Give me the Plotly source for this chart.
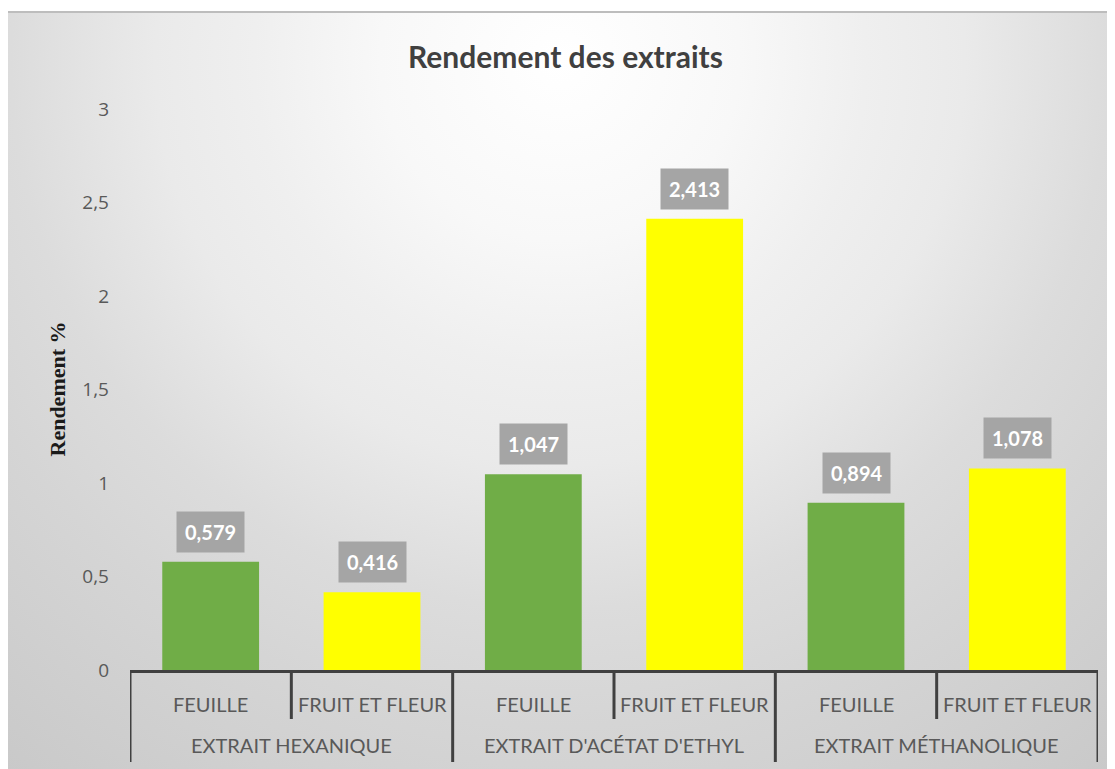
import base64
import plotly.graph_objects as go

# ---- data ----
groups = ["EXTRAIT HEXANIQUE", "EXTRAIT HEXANIQUE",
          "EXTRAIT D'ACÉTAT D'ETHYL", "EXTRAIT D'ACÉTAT D'ETHYL",
          "EXTRAIT MÉTHANOLIQUE", "EXTRAIT MÉTHANOLIQUE"]
parts = ["FEUILLE", "FRUIT ET FLEUR", "FEUILLE", "FRUIT ET FLEUR", "FEUILLE", "FRUIT ET FLEUR"]
values = [0.579, 0.416, 1.047, 2.413, 0.894, 1.078]
bar_colors = ["#70AD47", "#FFFF00", "#70AD47", "#FFFF00", "#70AD47", "#FFFF00"]
y_ticks = [0, 0.5, 1, 1.5, 2, 2.5, 3]
y_ticklabels = ["0", "0,5", "1", "1,5", "2", "2,5", "3"]
title_text = "Rendement des extraits"
ytitle_text = "Rendement %"

W, H = 1115, 769
ml, mr, mt, mb = 122, 25, 101, 107
pw, ph = W - ml - mr, H - mt - mb


def py(offset_px):
    """paper y for a pixel offset below the x axis line"""
    return -offset_px / ph


def px(x_fig):
    return (x_fig - ml) / pw


idx = list(range(len(values)))

fig = go.Figure()
fig.add_trace(go.Bar(
    x=idx, y=values,
    marker=dict(color=bar_colors, line=dict(width=0)),
    width=0.6, hoverinfo="skip", showlegend=False,
))

# data labels
for i, v in zip(idx, values):
    fig.add_annotation(
        x=i, y=v, xref="x", yref="y",
        text="<b>" + f"{v:.3f}".replace(".", ",") + "</b>",
        showarrow=False, yanchor="bottom", yshift=9,
        bgcolor="#A5A5A5", borderpad=8,
        font=dict(family="Lato", size=20, color="white"),
    )

# inner category labels
for i, p in zip(idx, parts):
    fig.add_annotation(x=i, y=py(34), xref="x", yref="paper", text=p,
                       showarrow=False, yanchor="middle",
                       font=dict(family="Lato", size=20, color="#595959"))

# group labels and dividers
axis_col = "#404040"
start = 0
group_spans = []
for i in range(1, len(groups) + 1):
    if i == len(groups) or groups[i] != groups[start]:
        group_spans.append((groups[start], start, i - 1))
        start = i
for name, a, b in group_spans:
    fig.add_annotation(x=(a + b) / 2, y=py(75), xref="x", yref="paper", text=name,
                       showarrow=False, yanchor="middle",
                       font=dict(family="Lato", size=20, color="#595959"))
    for k in range(a, b):
        fig.add_shape(type="line", xref="x", yref="paper", x0=k + 0.5, x1=k + 0.5,
                      y0=0, y1=py(49), line=dict(color=axis_col, width=3))
outer_bounds = [group_spans[0][1] - 0.5] + [b + 0.5 for _, _, b in group_spans]
for xb in outer_bounds:
    fig.add_shape(type="line", xref="x", yref="paper", x0=xb, x1=xb,
                  y0=0, y1=py(92), line=dict(color=axis_col, width=3))

# y axis title as rotated text
fig.add_annotation(x=px(49), y=0.5, xref="paper", yref="paper", text="<b>" + ytitle_text + "</b>",
                   textangle=-90, showarrow=False, xanchor="center", yanchor="middle",
                   font=dict(family="Liberation Serif", size=22, color="#1A1A1A"))

# background radial gradient image covering chart frame
x0f, y0f = 0, 4
iw, ih = W - x0f, H - y0f
cx, cy = 552 - x0f, 52 - y0f
svg = f'''<svg xmlns="http://www.w3.org/2000/svg" width="{iw}" height="{ih}" viewBox="0 0 {iw} {ih}" preserveAspectRatio="none">
<defs><radialGradient id="g" gradientUnits="userSpaceOnUse" cx="{cx}" cy="{cy}" r="900" fx="{cx}" fy="{cy}">
<stop offset="0" stop-color="#FFFFFF"/>
<stop offset="0.2" stop-color="#F8F8F8"/>
<stop offset="0.34" stop-color="#EFEFEF"/>
<stop offset="0.45" stop-color="#EAEAEA"/>
<stop offset="0.61" stop-color="#DCDCDC"/>
<stop offset="0.74" stop-color="#D5D5D5"/>
<stop offset="1" stop-color="#C9C9C9"/>
</radialGradient></defs>
<rect x="0" y="0" width="{iw}" height="{ih}" fill="url(#g)"/>
</svg>'''
src = "data:image/svg+xml;base64," + base64.b64encode(svg.encode()).decode()
fig.add_layout_image(
    source=src, xref="paper", yref="paper",
    x=px(x0f), y=(H - mb - y0f) / ph,
    sizex=iw / pw, sizey=ih / ph,
    xanchor="left", yanchor="top", sizing="stretch", layer="below",
)
fig.add_shape(type="line", xref="paper", yref="paper",
              x0=px(x0f), x1=px(W),
              y0=(H - mb - y0f) / ph, y1=(H - mb - y0f) / ph,
              line=dict(color="#BDBDBD", width=2), layer="below")

fig.update_layout(
    width=W, height=H,
    margin=dict(l=ml, r=mr, t=mt, b=mb, autoexpand=False),
    paper_bgcolor="white", plot_bgcolor="rgba(0,0,0,0)",
    title=dict(text="<b>" + title_text + "</b>", x=0.5, xref="container",
               y=1 - 49 / H, yref="container", xanchor="center", yanchor="middle",
               font=dict(family="Lato", size=30, color="#404040")),
)
fig.update_xaxes(
    range=[-0.5, len(values) - 0.5],
    showline=True, linecolor=axis_col, linewidth=3,
    showticklabels=False, ticks="", showgrid=False, zeroline=False,
)
fig.update_yaxes(
    range=[0, 3], tickvals=y_ticks, ticktext=y_ticklabels,
    showgrid=False, zeroline=False, showline=False, ticks="",
    ticklabelstandoff=20,
    tickfont=dict(family="Open Sans", size=19, color="#595959"),
)

fig.write_html("out.html")
